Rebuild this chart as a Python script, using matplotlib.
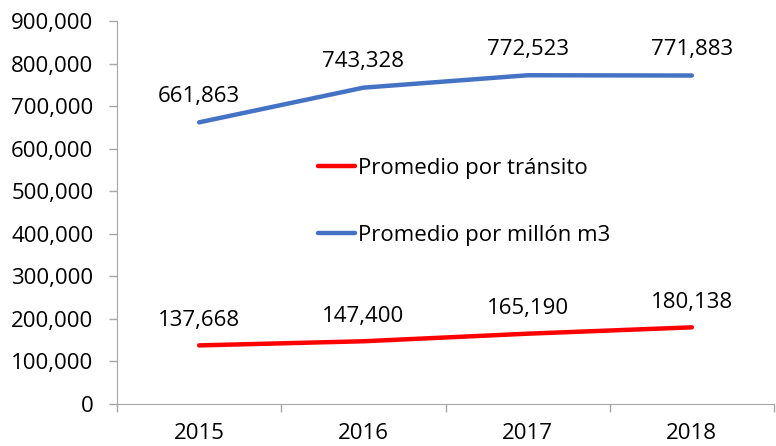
import matplotlib.pyplot as plt
from matplotlib.ticker import FuncFormatter, FixedLocator

plt.rcParams['font.family'] = ['Open Sans', 'DejaVu Sans']

# data ---------------------------------------------------------------
years = ['2015', '2016', '2017', '2018']
transito = [137668, 147400, 165190, 180138]
millon_m3 = [661863, 743328, 772523, 771883]

fig = plt.figure(figsize=(7.76, 4.46), dpi=100)
ax = fig.add_axes([0.1508, 0.0942, 0.8466, 0.8587])

x = list(range(len(years)))
l1, = ax.plot(x, transito, color='#FF0000', lw=3.2, solid_capstyle='round',
              label='Promedio por tránsito')
l2, = ax.plot(x, millon_m3, color='#4472C4', lw=3.2, solid_capstyle='round',
              label='Promedio por millón m3')

for xi, v in zip(x, transito):
    ax.annotate(f'{v:,}', (xi, v), xytext=(0, 18), textcoords='offset points',
                ha='center', va='center', fontsize=16)
for xi, v in zip(x, millon_m3):
    ax.annotate(f'{v:,}', (xi, v), xytext=(0, 18.5), textcoords='offset points',
                ha='center', va='center', fontsize=16)

ax.set_xlim(-0.5, 3.5)
ax.set_ylim(0, 900000)
ax.set_yticks(range(0, 900001, 100000))
ax.yaxis.set_major_formatter(FuncFormatter(lambda v, p: f'{int(v):,}'))
ax.set_xticks(x)
ax.set_xticklabels(years)
ax.xaxis.set_minor_locator(FixedLocator([-0.5, 0.5, 1.5, 2.5, 3.5]))

ax.tick_params(axis='x', which='major', length=0, pad=14, labelsize=16)
ax.tick_params(axis='x', which='minor', length=6, color='#A6A6A6', width=1)
ax.tick_params(axis='y', length=6, color='#A6A6A6', width=1, pad=11, labelsize=16)

for s in ['top', 'right']:
    ax.spines[s].set_visible(False)
for s in ['left', 'bottom']:
    ax.spines[s].set_color('#A6A6A6')

fig.legend(handles=[l1, l2], loc='center left', bbox_to_anchor=(0.41, 0.547),
           frameon=False, fontsize=16, handlelength=1.65, handletextpad=0.15,
           labelspacing=2.05, borderpad=0, borderaxespad=0)

fig.savefig('out.png', dpi=100)
